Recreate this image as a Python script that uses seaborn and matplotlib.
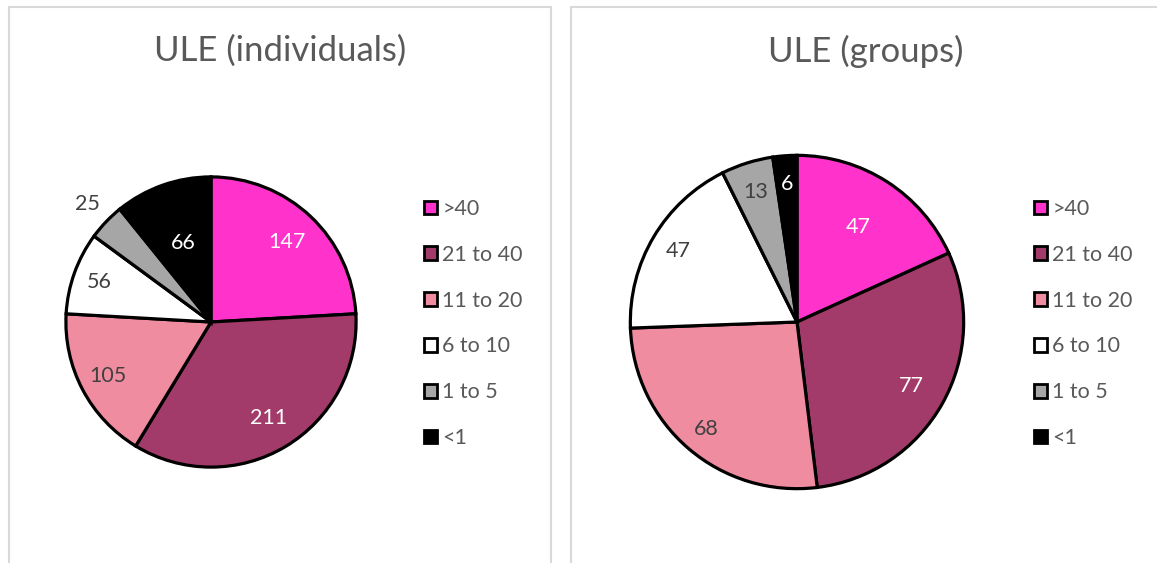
import math
import matplotlib
matplotlib.use("Agg")
import matplotlib.pyplot as plt
from matplotlib.patches import Patch, Rectangle
import seaborn as sns

sns.set_theme(style="white")
plt.rcParams['font.family'] = ['Lato', 'DejaVu Sans']

categories = [">40", "21 to 40", "11 to 20", "6 to 10", "1 to 5", "<1"]
individuals = [147, 211, 105, 56, 25, 66]
groups = [47, 77, 68, 47, 13, 6]
titles = ["ULE (individuals)", "ULE (groups)"]

colors = ["#FF33CC", "#A33B6A", "#F08CA0", "#FFFFFF", "#A6A6A6", "#000000"]
label_colors = ["white", "white", "#404040", "#404040", "#404040", "white"]

W, H = 1157, 563
fig = plt.figure(figsize=(W / 100, H / 100), dpi=100)
fig.patch.set_facecolor("white")

# panel borders
for x0, x1 in [(9, 551), (571, 1165)]:
    fig.patches.append(Rectangle((x0 / W, -0.05), (x1 - x0) / W, (H - 7) / H + 0.05,
                                 transform=fig.transFigure, fill=False,
                                 edgecolor="#D9D9D9", linewidth=1.5))

def draw(values, cx, cy, R, title, tx, lab_r, outside, leg_x):
    ax = fig.add_axes([(cx - R) / W, (H - cy - R) / H, 2 * R / W, 2 * R / H])
    ax.pie(values, colors=colors, startangle=90, counterclock=False,
           wedgeprops=dict(edgecolor="black", linewidth=2.3), radius=1)
    ax.set_xlim(-1.02, 1.02)
    ax.set_ylim(-1.02, 1.02)
    ax.axis("off")
    total = sum(values)
    cum = 0
    for i, v in enumerate(values):
        mid = 90 - (cum + v / 2) / total * 360
        cum += v
        r = lab_r[i]
        x = r * math.cos(math.radians(mid))
        y = r * math.sin(math.radians(mid))
        c = "#404040" if i in outside else label_colors[i]
        ax.text(x, y, str(v), ha="center", va="center", fontsize=15.5, color=c,
                clip_on=False)
    fig.text(tx / W, 1 - 51 / H, title, ha="center", va="center", fontsize=25,
             color="#595959")
    handles = [Patch(facecolor=colors[i], edgecolor="black", linewidth=2)
               for i in range(len(categories))]
    fig.legend(handles, categories, loc="upper left",
               bbox_to_anchor=(leg_x / W, 1 - 199 / H), frameon=False,
               fontsize=15.5, handlelength=0.6, handleheight=0.6,
               handletextpad=0.25, labelspacing=1.2, labelcolor="#595959",
               borderpad=0, borderaxespad=0)

draw(individuals, 211, 322, 148, titles[0], 280,
     [0.76, 0.77, 0.8, 0.82, 1.18, 0.58], [4], 424)
draw(groups, 797, 322, 170, titles[1], 866,
     [0.68, 0.79, 0.84, 0.83, 0.82, 0.83], [], 1034)

fig.savefig("out.png", dpi=100, facecolor="white")
